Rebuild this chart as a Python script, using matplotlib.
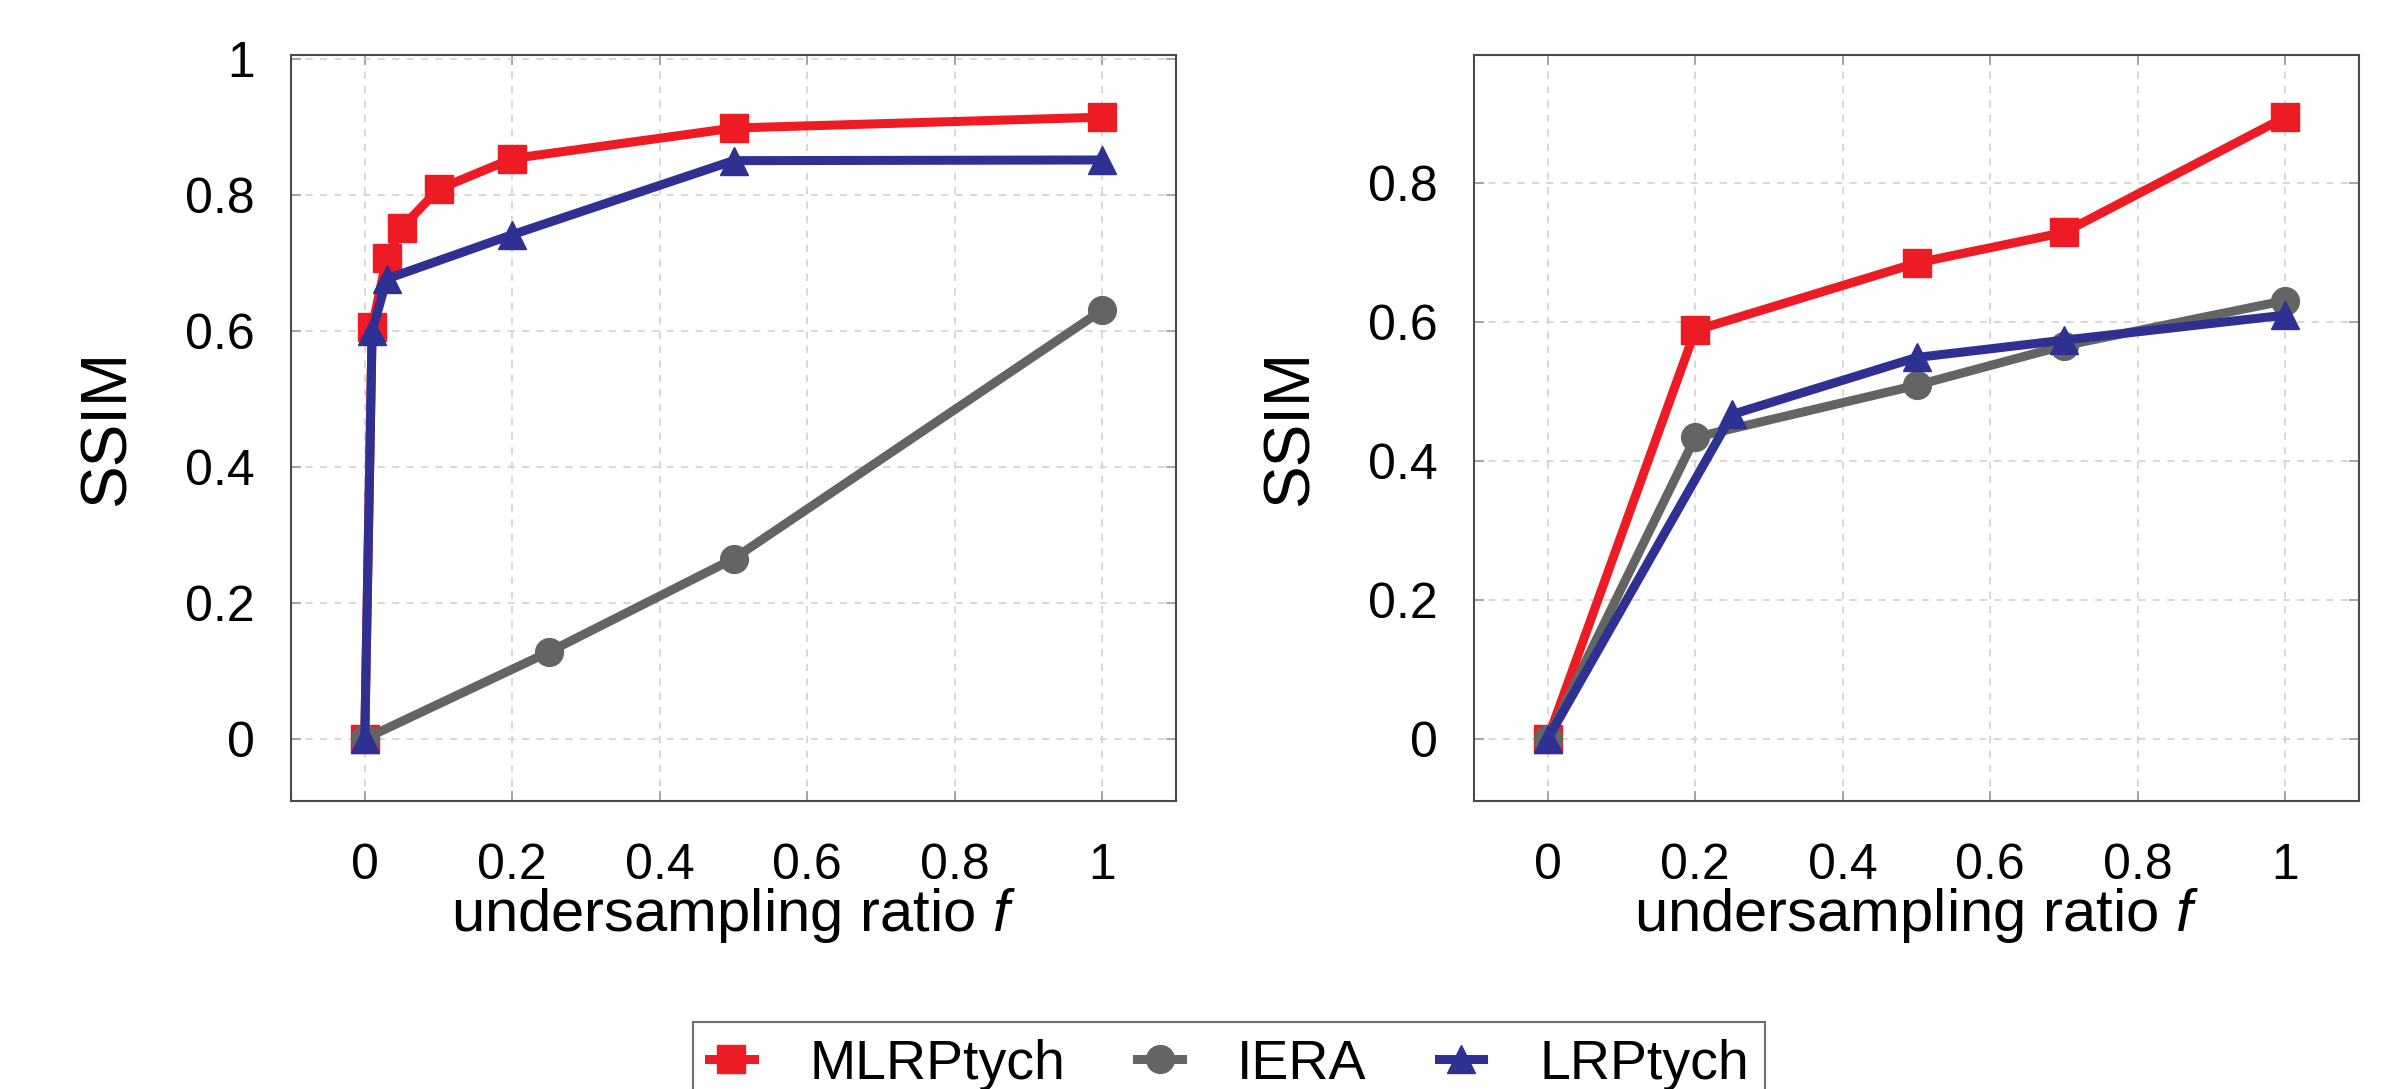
import matplotlib
matplotlib.use("Agg")
import matplotlib.pyplot as plt
from matplotlib.ticker import FixedLocator, FuncFormatter

# ---- data ----
series_names = ["MLRPtych", "IERA", "LRPtych"]

left_mlrp_x = [0, 0.01, 0.03, 0.05, 0.1, 0.2, 0.5, 1.0]
left_mlrp_y = [0, 0.606, 0.708, 0.752, 0.809, 0.854, 0.899, 0.915]
left_iera_x = [0, 0.25, 0.5, 1.0]
left_iera_y = [0, 0.128, 0.265, 0.631]
left_lrp_x = [0, 0.01, 0.03, 0.2, 0.5, 1.0]
left_lrp_y = [0, 0.600, 0.677, 0.742, 0.851, 0.852]

right_mlrp_x = [0, 0.2, 0.5, 0.7, 1.0]
right_mlrp_y = [0, 0.588, 0.685, 0.729, 0.895]
right_iera_x = [0, 0.2, 0.5, 0.7, 1.0]
right_iera_y = [0, 0.434, 0.509, 0.566, 0.631]
right_lrp_x = [0, 0.25, 0.5, 0.7, 1.0]
right_lrp_y = [0, 0.467, 0.549, 0.574, 0.610]

x_ticks = [0, 0.2, 0.4, 0.6, 0.8, 1.0]
left_y_ticks = [0, 0.2, 0.4, 0.6, 0.8, 1.0]
right_y_ticks = [0, 0.2, 0.4, 0.6, 0.8]

x_label = "undersampling ratio $f$"
y_label = "SSIM"

colors = ["#ED1C24", "#646464", "#2E3192"]
markers = ["s", "o", "^"]

# ---- style ----
plt.rcParams["font.family"] = ["Liberation Sans", "DejaVu Sans"]
plt.rcParams["mathtext.fontset"] = "custom"
plt.rcParams["mathtext.it"] = "Liberation Sans:italic"
plt.rcParams["mathtext.rm"] = "Liberation Sans"

fig = plt.figure(figsize=(24.01, 10.89), dpi=100)

W, H = 2401.0, 1089.0
ax_w = 885 / W
ax_h = (801 - 55) / H
ax_b = 1 - 801 / H
ax1 = fig.add_axes([291 / W, ax_b, ax_w, ax_h])
ax2 = fig.add_axes([1474 / W, ax_b, ax_w, ax_h])


def fmt(v, pos):
    s = f"{v:.1f}"
    if s.endswith(".0"):
        s = s[:-2]
    return s


def style(ax, yticks, ylim):
    ax.set_xlim(-0.1, 1.1)
    ax.set_ylim(*ylim)
    ax.xaxis.set_major_locator(FixedLocator(x_ticks))
    ax.yaxis.set_major_locator(FixedLocator(yticks))
    ax.xaxis.set_major_formatter(FuncFormatter(fmt))
    ax.yaxis.set_major_formatter(FuncFormatter(fmt))
    ax.grid(True, color="#d4d4d4", linestyle=(0, (4, 4)), linewidth=1.3)
    ax.set_axisbelow(True)
    for sp in ax.spines.values():
        sp.set_color("#4a4a4a")
        sp.set_linewidth(1.5)
    ax.tick_params(direction="in", length=7, width=1.2, color="#9a9a9a",
                   top=True, right=True, labelsize=36, pad=30)
    ax.tick_params(axis="y", pad=26)
    ax.set_xlabel(x_label, fontsize=43, labelpad=-2)
    ax.set_ylabel(y_label, fontsize=46, labelpad=34)


def draw(ax, xs, ys):
    handles = []
    for x, y, c, m, n in zip(xs, ys, colors, markers, series_names):
        h, = ax.plot(x, y, color=c, marker=m, markersize=20, linewidth=6.5,
                     markeredgewidth=1, markeredgecolor=c, label=n,
                     clip_on=False)
        handles.append(h)
    return handles


handles = draw(ax1, [left_mlrp_x, left_iera_x, left_lrp_x],
               [left_mlrp_y, left_iera_y, left_lrp_y])
draw(ax2, [right_mlrp_x, right_iera_x, right_lrp_x],
     [right_mlrp_y, right_iera_y, right_lrp_y])

style(ax1, left_y_ticks, (-0.0915, 1.0065))
style(ax2, right_y_ticks, (-0.0895, 0.9845))

leg = fig.legend(handles=handles, labels=series_names, loc="upper center",
                 bbox_to_anchor=(1229 / W, 1 - 1022 / H),
                 bbox_transform=fig.transFigure, ncol=3, fontsize=40,
                 frameon=True, fancybox=False, handlelength=0.8,
                 handletextpad=1.0, columnspacing=1.3, borderaxespad=0,
                 borderpad=0.3, markerscale=1.0)
leg.get_frame().set_edgecolor("#4a4a4a")
leg.get_frame().set_linewidth(1.5)

fig.savefig("out.png", dpi=100)
